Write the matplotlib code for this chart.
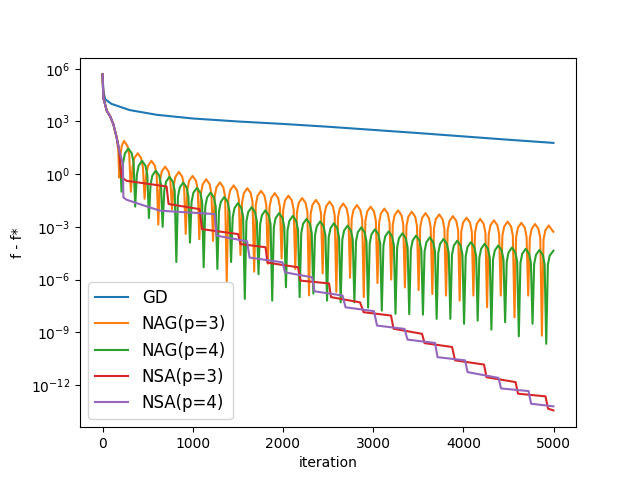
import numpy as np
import matplotlib
matplotlib.use("Agg")
import matplotlib.pyplot as plt

gd_x = [0, 10, 30, 100, 300, 600, 1000, 1500, 2000, 2500, 3000, 3500, 4000, 4500, 4999]
gd_e = [5.68, 4.7, 4.26, 4.0, 3.65, 3.38, 3.17, 3.0, 2.86, 2.7, 2.52, 2.34, 2.15, 1.96, 1.78]

start_x = [0, 9, 47, 83, 120, 157]
start_e = [5.68, 4.35, 3.6, 3.31, 2.84, 2.08]

# NAG(p=3): one row per oscillation (trough, rise, rise, peak, fall, fall)
nag3_x = [
    [185, 199, 213, 238, 276, 296],
    [314, 332, 352, 390, 428, 448],
    [466, 484, 504, 542, 580, 600],
    [618, 636, 656, 694, 732, 752],
    [770, 788, 808, 846, 884, 904],
    [922, 940, 960, 998, 1036, 1056],
    [1073, 1091, 1111, 1149, 1187, 1207],
    [1225, 1243, 1263, 1301, 1339, 1359],
    [1377, 1395, 1415, 1453, 1491, 1511],
    [1529, 1547, 1567, 1605, 1643, 1663],
    [1681, 1699, 1719, 1757, 1795, 1815],
    [1833, 1851, 1871, 1909, 1947, 1967],
    [1985, 2003, 2023, 2061, 2099, 2119],
    [2137, 2155, 2175, 2213, 2251, 2271],
    [2289, 2307, 2327, 2365, 2403, 2423],
    [2440, 2458, 2478, 2516, 2554, 2574],
    [2592, 2610, 2630, 2668, 2706, 2726],
    [2744, 2762, 2782, 2820, 2858, 2878],
    [2896, 2914, 2934, 2972, 3010, 3030],
    [3048, 3066, 3086, 3124, 3162, 3182],
    [3200, 3218, 3238, 3276, 3314, 3334],
    [3352, 3370, 3390, 3428, 3466, 3486],
    [3504, 3522, 3542, 3580, 3618, 3638],
    [3656, 3674, 3694, 3732, 3770, 3790],
    [3808, 3826, 3846, 3884, 3922, 3942],
    [3959, 3977, 3997, 4036, 4074, 4094],
    [4111, 4129, 4149, 4187, 4225, 4245],
    [4263, 4281, 4301, 4339, 4377, 4397],
    [4415, 4433, 4453, 4491, 4529, 4549],
    [4567, 4585, 4605, 4643, 4681, 4701],
    [4719, 4737, 4757, 4795, 4833, 4853],
    [4871, 4889, 4909, 4947, 4985, 4999],
]
nag3_e = [
    [-0.19, 1.09, 1.61, 1.89, 1.61, 1.09],
    [-1.0, 0.39, 0.91, 1.19, 0.91, 0.39],
    [-1.4, -0.04, 0.48, 0.76, 0.48, -0.04],
    [-2.87, -0.37, 0.15, 0.43, 0.15, -0.37],
    [-2.0, -0.67, -0.15, 0.13, -0.15, -0.67],
    [-3.4, -0.9, -0.38, -0.1, -0.38, -0.9],
    [-3.7, -1.09, -0.57, -0.29, -0.57, -1.09],
    [-3.8, -1.27, -0.75, -0.47, -0.75, -1.27],
    [-6.1, -1.44, -0.92, -0.64, -0.92, -1.44],
    [-4.6, -1.6, -1.08, -0.8, -1.08, -1.6],
    [-5.55, -1.75, -1.23, -0.95, -1.23, -1.75],
    [-5.1, -1.88, -1.36, -1.08, -1.36, -1.88],
    [-4.8, -2.02, -1.5, -1.22, -1.5, -2.02],
    [-5.4, -2.16, -1.64, -1.36, -1.64, -2.16],
    [-6.9, -2.27, -1.75, -1.47, -1.75, -2.27],
    [-5.65, -2.36, -1.84, -1.56, -1.84, -2.36],
    [-6.7, -2.47, -1.95, -1.67, -1.95, -2.47],
    [-5.9, -2.56, -2.04, -1.76, -2.04, -2.56],
    [-7.0, -2.65, -2.13, -1.85, -2.13, -2.65],
    [-6.2, -2.76, -2.24, -1.96, -2.24, -2.76],
    [-6.0, -2.86, -2.34, -2.06, -2.34, -2.86],
    [-6.45, -2.94, -2.42, -2.14, -2.42, -2.94],
    [-6.6, -3.02, -2.5, -2.22, -2.5, -3.02],
    [-6.82, -3.09, -2.57, -2.29, -2.57, -3.09],
    [-6.91, -3.19, -2.67, -2.39, -2.67, -3.19],
    [-7.2, -3.28, -2.76, -2.48, -2.76, -3.28],
    [-6.91, -3.35, -2.83, -2.55, -2.83, -3.35],
    [-7.58, -3.43, -2.91, -2.63, -2.91, -3.43],
    [-6.91, -3.5, -2.98, -2.7, -2.98, -3.5],
    [-8.15, -3.57, -3.05, -2.77, -3.05, -3.57],
    [-6.91, -3.64, -3.12, -2.84, -3.12, -3.64],
    [-9.19, -3.72, -3.2, -2.92, -3.2, -3.28],
]

# NAG(p=4)
nag4_x = [
    [210, 228, 248, 286, 324, 344],
    [362, 380, 400, 438, 476, 496],
    [514, 532, 552, 590, 628, 648],
    [666, 684, 704, 742, 780, 800],
    [818, 836, 856, 894, 932, 952],
    [969, 987, 1007, 1046, 1084, 1104],
    [1121, 1139, 1159, 1197, 1235, 1255],
    [1273, 1291, 1311, 1349, 1387, 1407],
    [1425, 1443, 1463, 1501, 1539, 1559],
    [1577, 1595, 1615, 1653, 1691, 1711],
    [1729, 1747, 1767, 1805, 1843, 1863],
    [1881, 1899, 1919, 1957, 1995, 2015],
    [2033, 2051, 2071, 2109, 2147, 2167],
    [2185, 2203, 2223, 2261, 2299, 2319],
    [2337, 2355, 2375, 2413, 2451, 2471],
    [2489, 2507, 2527, 2564, 2602, 2622],
    [2640, 2658, 2678, 2716, 2754, 2774],
    [2792, 2810, 2830, 2868, 2906, 2926],
    [2944, 2962, 2982, 3020, 3058, 3078],
    [3096, 3114, 3134, 3172, 3210, 3230],
    [3248, 3266, 3286, 3324, 3362, 3382],
    [3400, 3418, 3438, 3476, 3514, 3534],
    [3552, 3570, 3590, 3628, 3666, 3686],
    [3704, 3722, 3742, 3780, 3818, 3838],
    [3856, 3874, 3894, 3932, 3970, 3990],
    [4008, 4026, 4046, 4084, 4122, 4142],
    [4159, 4177, 4197, 4235, 4273, 4293],
    [4311, 4329, 4349, 4387, 4425, 4445],
    [4463, 4481, 4501, 4539, 4577, 4597],
    [4615, 4633, 4653, 4691, 4729, 4749],
    [4767, 4785, 4805, 4843, 4881, 4901],
    [4919, 4937, 4957, 4999],
]
nag4_e = [
    [-1.0, 0.66, 1.18, 1.46, 1.18, 0.66],
    [-1.85, -0.04, 0.48, 0.76, 0.48, -0.04],
    [-2.5, -0.6, -0.08, 0.2, -0.08, -0.6],
    [-3.0, -0.95, -0.43, -0.15, -0.43, -0.95],
    [-5.0, -1.28, -0.76, -0.48, -0.76, -1.28],
    [-3.9, -1.58, -1.06, -0.78, -1.06, -1.58],
    [-5.3, -1.85, -1.33, -1.05, -1.33, -1.85],
    [-5.4, -2.1, -1.58, -1.3, -1.58, -2.1],
    [-5.0, -2.45, -1.93, -1.65, -1.93, -2.45],
    [-7.1, -2.68, -2.16, -1.88, -2.16, -2.68],
    [-5.7, -2.86, -2.34, -2.06, -2.34, -2.86],
    [-7.2, -3.02, -2.5, -2.22, -2.5, -3.02],
    [-6.44, -3.18, -2.66, -2.38, -2.66, -3.18],
    [-7.0, -3.35, -2.83, -2.55, -2.83, -3.35],
    [-6.8, -3.49, -2.97, -2.69, -2.97, -3.49],
    [-7.2, -3.6, -3.08, -2.8, -3.08, -3.6],
    [-7.3, -3.73, -3.21, -2.93, -3.21, -3.73],
    [-7.3, -3.83, -3.31, -3.03, -3.31, -3.83],
    [-7.6, -3.94, -3.42, -3.14, -3.42, -3.94],
    [-7.77, -4.06, -3.54, -3.26, -3.54, -4.06],
    [-7.95, -4.17, -3.65, -3.37, -3.65, -4.17],
    [-7.97, -4.3, -3.78, -3.5, -3.78, -4.3],
    [-8.0, -4.4, -3.88, -3.6, -3.88, -4.4],
    [-8.24, -4.49, -3.97, -3.69, -3.97, -4.49],
    [-8.24, -4.59, -4.07, -3.79, -4.07, -4.59],
    [-8.52, -4.67, -4.15, -3.87, -4.15, -4.67],
    [-8.34, -4.77, -4.25, -3.97, -4.25, -4.77],
    [-8.85, -4.86, -4.34, -4.06, -4.34, -4.86],
    [-8.43, -4.98, -4.46, -4.18, -4.46, -4.98],
    [-9.23, -5.05, -4.53, -4.25, -4.53, -5.05],
    [-8.52, -5.12, -4.6, -4.32, -4.6, -5.12],
    [-9.66, -5.16, -4.64, -4.36],
]

# NSA curves: staircase, points at the start and end of each plateau
nsa3_x = [186, 200, 213, 268, 710, 732, 1075, 1103, 1502, 1530, 1807, 1829,
          2167, 2195, 2511, 2533, 2855, 2894, 3198, 3226, 3542, 3570, 3875,
          3908, 4229, 4257, 4579, 4606, 4911, 4939, 4999]
nsa3_e = [1.32, 0.3, -0.19, -0.38, -0.7, -1.7, -1.99, -3.13, -3.41, -3.98,
          -4.16, -5.04, -5.3, -6.06, -6.22, -7.0, -7.3, -7.86, -8.05, -8.8,
          -9.09, -9.62, -9.84, -10.6, -10.84, -11.56, -11.84, -12.5, -12.65,
          -13.35, -13.45]

nsa4_x = [186, 212, 226, 231, 268, 527, 638, 1242, 1264, 1602, 1630, 1995,
          2023, 2323, 2350, 2661, 2694, 3009, 3043, 3348, 3381, 3686, 3714,
          4019, 4047, 4390, 4418, 4723, 4751, 4999]
nsa4_e = [1.32, 0.86, 0.5, -1.33, -1.46, -1.9, -2.08, -2.27, -3.5, -3.82,
          -4.75, -5.02, -5.59, -5.87, -6.67, -6.91, -7.58, -7.8, -8.62, -8.81,
          -9.42, -9.61, -10.42, -10.6, -11.27, -11.6, -12.2, -12.35, -13.07,
          -13.22]


def flat(rows):
    return [v for r in rows for v in r]


fig, ax = plt.subplots(figsize=(6.4, 4.8), dpi=100)

ax.plot(gd_x, 10.0 ** np.array(gd_e), label="GD")
ax.plot(start_x + [175] + flat(nag3_x),
        10.0 ** np.array(start_e + [1.3] + flat(nag3_e)), label="NAG(p=3)")
ax.plot(start_x + [186, 200] + flat(nag4_x),
        10.0 ** np.array(start_e + [1.32, 0.4] + flat(nag4_e)), label="NAG(p=4)")
ax.plot(start_x + nsa3_x, 10.0 ** np.array(start_e + nsa3_e), label="NSA(p=3)")
ax.plot(start_x + nsa4_x, 10.0 ** np.array(start_e + nsa4_e), label="NSA(p=4)")

ax.set_yscale("log")
ax.set_xlabel("iteration")
ax.set_ylabel("f - f*")
ax.legend(loc="lower left", fontsize=12)

fig.savefig("out.png")
